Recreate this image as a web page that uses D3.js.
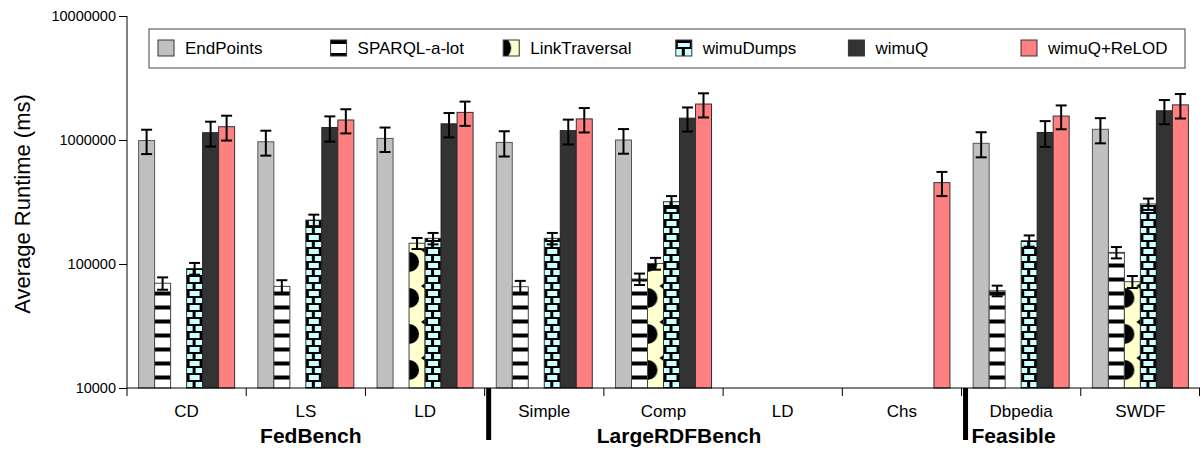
<!DOCTYPE html>
<html><head><meta charset="utf-8">
<script src="https://cdn.jsdelivr.net/npm/d3@7"></script>
<style>body{margin:0;background:#fff} text{font-family:"Liberation Sans",Arial,Helvetica,sans-serif}</style>
</head><body><svg id="c" width="1200" height="450"></svg>
<script>
const categories = ["CD","LS","LD","Simple","Comp","LD","Chs","Dbpedia","SWDF"];
const groupNames = ["FedBench","LargeRDFBench","Feasible"];
const groupStarts = [0,3,7];
const seriesNames = ["EndPoints","SPARQL-a-lot","LinkTraversal","wimuDumps","wimuQ","wimuQ+ReLOD"];
const endPoints     = [990000, 968000, 1030000, 956000, 1000000, null, null, 940000, 1220000];
const sparqlALot    = [70000, 66000, null, 65600, 75700, null, null, 60900, 124000];
const linkTraversal = [null, null, 147000, null, 101000, null, null, null, 72000];
const wimuDumps     = [92000, 226000, 161000, 161000, 318000, null, null, 154000, 305000];
const wimuQ         = [1145000, 1260000, 1350000, 1190000, 1500000, null, null, 1150000, 1720000];
const wimuQReLOD    = [1280000, 1450000, 1670000, 1480000, 1950000, null, 453000, 1560000, 1920000];
const errEndPoints     = [220000, 220000, 230000, 220000, 225000, null, null, 215000, 280000];
const errSparqlALot    = [8000, 8000, null, 7500, 8000, null, null, 6000, 13000];
const errLinkTraversal = [null, null, 15000, null, 11000, null, null, null, 8000];
const errWimuDumps     = [10000, 24000, 17000, 17000, 35000, null, null, 16000, 32000];
const errWimuQ         = [260000, 290000, 300000, 270000, 330000, null, null, 270000, 380000];
const errWimuQReLOD    = [290000, 320000, 370000, 330000, 430000, null, 100000, 340000, 430000];
const yTicks = [10000, 100000, 1000000, 10000000];
const yLabel = "Average Runtime (ms)";

const values = [endPoints, sparqlALot, linkTraversal, wimuDumps, wimuQ, wimuQReLOD];
const errs = [errEndPoints, errSparqlALot, errLinkTraversal, errWimuDumps, errWimuQ, errWimuQReLOD];

const svg = d3.select("#c");
const defs = svg.append("defs");
const L = 127, R = 1200, T = 16, B = 388;
const x = d3.scaleBand().domain(d3.range(categories.length)).range([L, R]).paddingInner(0).paddingOuter(0);
const bw = x.bandwidth();
const barW = 16, barOff = (bw - barW * 6) / 2;
const y = d3.scaleLog().domain([1e4, 1e7]).range([B, T]);

const solidFill = ["#c0c0c0", null, null, null, "#333333", "#ff8080"];
const strokeC = ["#555", "#444", "#444", "#333", "#222", "#333"];

function makePattern(id, si, px, py) {
  if (si === 1) {
    const p = defs.append("pattern").attr("id", id).attr("patternUnits", "userSpaceOnUse")
      .attr("x", px).attr("y", py).attr("width", 16).attr("height", 14);
    p.append("rect").attr("width", 16).attr("height", 14).attr("fill", "#fff");
    p.append("rect").attr("y", 1.5).attr("width", 16).attr("height", 4).attr("fill", "#000");
  } else if (si === 2) {
    const p = defs.append("pattern").attr("id", id).attr("patternUnits", "userSpaceOnUse")
      .attr("x", px).attr("y", py).attr("width", 16).attr("height", 36);
    p.append("rect").attr("width", 16).attr("height", 36).attr("fill", "#ffffd0");
    p.append("circle").attr("cx", 0).attr("cy", 18).attr("r", 10).attr("fill", "#000");
    p.append("path").attr("d", "M16,3 L12,6 L16,9 Z").attr("fill", "#000");
  } else if (si === 3) {
    const p = defs.append("pattern").attr("id", id).attr("patternUnits", "userSpaceOnUse")
      .attr("x", px).attr("y", py).attr("width", 16).attr("height", 14);
    p.append("rect").attr("width", 16).attr("height", 14).attr("fill", "#000");
    p.append("rect").attr("x", 3).attr("y", 1).attr("width", 10).attr("height", 5).attr("fill", "#ccffff");
    p.append("rect").attr("x", 0).attr("y", 8).attr("width", 6).attr("height", 5).attr("fill", "#ccffff");
    p.append("rect").attr("x", 9).attr("y", 8).attr("width", 7).attr("height", 5).attr("fill", "#ccffff");
  }
}

// bars
seriesNames.forEach((s, si) => {
  const g = svg.append("g");
  values[si].forEach((v, ci) => {
    if (v == null) return;
    const bx = x(ci) + barOff + si * barW;
    let fill = solidFill[si];
    if (!fill) {
      const id = "p" + si + "_" + ci;
      makePattern(id, si, bx, B);
      fill = "url(#" + id + ")";
    }
    g.append("rect").attr("x", bx).attr("y", y(v)).attr("width", barW).attr("height", B - y(v))
      .attr("fill", fill).attr("stroke", strokeC[si]).attr("stroke-width", 1);
  });
});
// error bars
seriesNames.forEach((s, si) => {
  values[si].forEach((v, ci) => {
    const e = errs[si][ci];
    if (v == null || e == null) return;
    const cx = x(ci) + barOff + si * barW + barW / 2;
    const y1 = y(v + e), y2 = y(v - e);
    const g = svg.append("g").attr("stroke", "#000").attr("stroke-width", 2);
    g.append("line").attr("x1", cx).attr("x2", cx).attr("y1", y1).attr("y2", y2);
    g.append("line").attr("x1", cx - 5.5).attr("x2", cx + 5.5).attr("y1", y1).attr("y2", y1);
    g.append("line").attr("x1", cx - 5.5).attr("x2", cx + 5.5).attr("y1", y2).attr("y2", y2);
  });
});

// y axis
const ya = svg.append("g").attr("transform", `translate(${L},0)`)
  .call(d3.axisLeft(y).tickValues(yTicks).tickFormat(d3.format("d")).tickSize(8).tickPadding(3));
ya.select(".domain").attr("stroke", "#000").attr("d", `M0,${T}V${B}`);
ya.selectAll("text").attr("font-size", 14.5).attr("fill", "#000").attr("font-family", "Liberation Sans, Arial, sans-serif");
ya.selectAll("line").attr("stroke", "#000");

// x axis
const xa = svg.append("g").attr("transform", `translate(0,${B})`);
xa.append("line").attr("x1", L).attr("x2", R).attr("y1", 0).attr("y2", 0).attr("stroke", "#000");
d3.range(categories.length + 1).forEach(i => {
  const xx = i < categories.length ? x(i) : R - 0.5;
  xa.append("line").attr("x1", xx).attr("x2", xx).attr("y1", 0).attr("y2", 8).attr("stroke", "#000");
});
categories.forEach((c, i) => {
  xa.append("text").attr("x", x(i) + bw / 2).attr("y", 29).attr("text-anchor", "middle")
    .attr("font-size", 17).text(c);
});
// group separators
groupStarts.slice(1).forEach(gs => {
  svg.append("rect").attr("x", x(gs) + 1.5).attr("y", B).attr("width", 5).attr("height", 52).attr("fill", "#000");
});
// group labels
const glx = [x(1) + bw / 2 + 5, x(4) + bw * 0.63, x(7) + 10];
const gla = ["middle", "middle", "start"];
groupNames.forEach((gname, i) => {
  svg.append("text").attr("x", glx[i]).attr("y", 443).attr("text-anchor", gla[i])
    .attr("font-size", 21).attr("font-weight", "bold").text(gname);
});

// y label
svg.append("text").attr("transform", "translate(30,204) rotate(-90)").attr("text-anchor", "middle")
  .attr("font-size", 22).text(yLabel);

// legend
const lg = svg.append("g");
lg.append("rect").attr("x", 149).attr("y", 29).attr("width", 1036).attr("height", 39)
  .attr("fill", "#fff").attr("stroke", "#444").attr("stroke-width", 1);
seriesNames.forEach((s, si) => {
  const lx = 158 + si * 172.6, ly = 40;
  let fill = solidFill[si];
  if (!fill) {
    const id = "lp" + si;
    if (si === 1) {
      const p = defs.append("pattern").attr("id", id).attr("patternUnits", "userSpaceOnUse").attr("x", lx).attr("y", ly).attr("width", 16).attr("height", 16);
      p.append("rect").attr("width", 16).attr("height", 16).attr("fill", "#fff");
      p.append("rect").attr("width", 16).attr("height", 4).attr("fill", "#000");
      p.append("rect").attr("y", 13).attr("width", 16).attr("height", 3).attr("fill", "#000");
    } else if (si === 2) {
      const p = defs.append("pattern").attr("id", id).attr("patternUnits", "userSpaceOnUse").attr("x", lx).attr("y", ly).attr("width", 16).attr("height", 16);
      p.append("rect").attr("width", 16).attr("height", 16).attr("fill", "#ffffd0");
      p.append("path").attr("d", "M0,0 H5 Q11,8 5,16 H0 Z").attr("fill", "#000");
    } else {
      const p = defs.append("pattern").attr("id", id).attr("patternUnits", "userSpaceOnUse").attr("x", lx).attr("y", ly).attr("width", 16).attr("height", 16);
      p.append("rect").attr("width", 16).attr("height", 16).attr("fill", "#000");
      p.append("rect").attr("x", 2).attr("y", 3).attr("width", 12).attr("height", 4).attr("fill", "#ccffff");
      p.append("rect").attr("x", 9).attr("y", 9).attr("width", 7).attr("height", 7).attr("fill", "#ccffff");
      p.append("rect").attr("x", 0).attr("y", 9).attr("width", 6).attr("height", 7).attr("fill", "#ccffff");
    }
    fill = "url(#" + id + ")";
  }
  lg.append("rect").attr("x", lx).attr("y", ly).attr("width", 16).attr("height", 16)
    .attr("fill", fill).attr("stroke", "#333").attr("stroke-width", 1);
  lg.append("text").attr("x", lx + 27).attr("y", ly + 14).attr("font-size", 17).text(s);
});
</script></body></html>
